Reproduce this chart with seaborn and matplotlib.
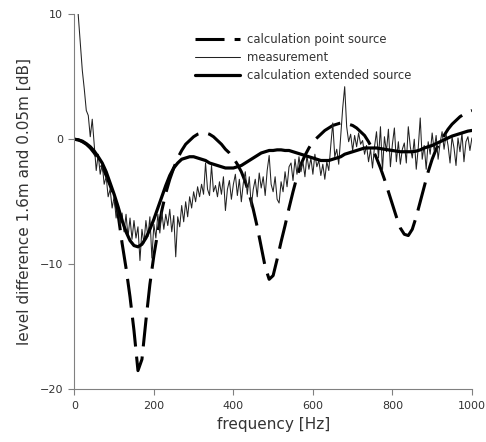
import matplotlib
matplotlib.use("Agg")
import matplotlib.pyplot as plt
import seaborn as sns
import numpy as np

# calculation grids (Hz)
freq_calc = list(range(0, 1001, 10))
freq_meas = list(range(5, 1001, 5))

# calculation point source [dB], every 10 Hz
point_source = [
    0.0, -0.05, -0.2, -0.4, -0.7, -1.1, -1.6, -2.2, -2.9, -3.7,
    -4.6, -6.0, -8.3, -10.3, -12.6, -15.3, -18.5, -17.6, -14.5, -11.6,
    -9.3, -7.4, -5.7, -4.3, -3.2, -2.3, -1.5, -0.9, -0.4, -0.1,
    0.2, 0.4, 0.5, 0.5, 0.4, 0.2, -0.1, -0.4, -0.8, -1.1,
    -1.5, -2.0, -2.6, -3.4, -4.4, -5.6, -7.0, -8.6, -10.2, -11.2,
    -10.9, -9.6, -8.2, -6.9, -5.5, -4.2, -3.0, -2.0, -1.3, -0.7,
    -0.2, 0.1, 0.4, 0.7, 0.9, 1.1, 1.2, 1.3, 1.3, 1.2,
    1.1, 0.9, 0.6, 0.3, -0.2, -0.8, -1.5, -2.3, -3.2, -4.2,
    -5.2, -6.2, -7.1, -7.6, -7.7, -7.2, -6.2, -5.0, -3.8, -2.6,
    -1.6, -0.8, -0.2, 0.3, 0.8, 1.2, 1.5, 1.8, 2.0, 2.2,
    2.3,
]

# calculation extended source [dB], every 10 Hz
extended_source = [
    0.0, -0.05, -0.15, -0.35, -0.6, -0.95, -1.4, -1.9, -2.6, -3.5,
    -4.4, -5.4, -6.5, -7.4, -8.1, -8.5, -8.6, -8.4, -7.9, -7.2,
    -6.4, -5.5, -4.6, -3.7, -2.9, -2.3, -1.9, -1.6, -1.5, -1.4,
    -1.4, -1.5, -1.6, -1.7, -1.9, -2.0, -2.1, -2.2, -2.3, -2.3,
    -2.3, -2.2, -2.1, -1.9, -1.7, -1.5, -1.3, -1.1, -1.0, -0.9,
    -0.9, -0.85, -0.85, -0.9, -0.9, -1.0, -1.1, -1.2, -1.3, -1.4,
    -1.5, -1.6, -1.7, -1.7, -1.7, -1.6, -1.5, -1.4, -1.2, -1.1,
    -1.0, -0.9, -0.8, -0.7, -0.7, -0.7, -0.7, -0.75, -0.8, -0.85,
    -0.9, -0.95, -1.0, -1.0, -1.0, -1.0, -0.95, -0.85, -0.7, -0.6,
    -0.5, -0.35, -0.2, -0.05, 0.1, 0.25, 0.35, 0.45, 0.55, 0.65,
    0.7,
]

# measurement [dB], every 5 Hz from 5 Hz
measurement = [
    12.0, 9.8, 7.5, 5.5, 4.0, 2.3, 1.9, 0.2, 1.6, -0.5,
    -2.5, -1.2, -2.8, -2.0, -3.6, -3.0, -4.6, -4.0, -5.5, -4.6,
    -6.3, -5.2, -6.8, -5.9, -7.4, -6.0, -7.8, -6.3, -8.0, -6.5,
    -7.9, -7.0, -9.7, -7.2, -8.3, -6.5, -7.8, -6.2, -9.5, -6.8,
    -7.9, -6.0, -7.5, -5.8, -7.2, -6.0, -6.9, -5.6, -7.4, -6.1,
    -9.4, -6.2, -7.0, -5.3, -6.6, -5.0, -6.2, -4.6, -5.5, -4.2,
    -5.0, -3.8, -4.6, -3.6, -4.4, -1.9, -4.0, -4.5, -2.1, -4.2,
    -3.7, -4.6, -3.4, -4.4, -3.0, -5.7, -4.0, -3.3, -4.8, -3.6,
    -2.8, -4.5, -3.2, -5.0, -3.5, -2.6, -4.4, -3.0, -5.4, -4.0,
    -3.2, -4.6, -2.7, -3.9, -3.0, -4.5, -2.5, -1.3, -3.6, -4.2,
    -3.0, -4.8, -5.1, -3.4, -4.2, -2.6, -3.8, -2.2, -1.9, -3.3,
    -1.6, -2.8, -1.4, -2.6, -1.8, -3.0, -1.3, -2.4, -1.5, -2.8,
    -1.2, -2.2, -1.7, -2.9, -2.0, -3.2, -1.8, -2.5, -0.5, 1.3,
    -1.4, -0.8, -2.0, 0.2, 2.5, 4.2, 1.0, -0.2, 0.4, -0.9,
    0.3, -0.6, 0.5, -0.4, -0.1, -1.2, -0.5, -1.8, -0.8, -2.3,
    -0.6, 0.6, -1.5, 1.0, -2.5, 0.2, -1.0, 0.8, -2.2, -0.4,
    0.9, -1.8, -0.2, -2.0, -0.8, -0.3, -1.9, 1.0, -0.6, -1.5,
    0.0, -2.4, -0.7, 1.7, -1.6, -0.5, -2.4, -0.2, -1.2, 0.5,
    -0.9, 0.3, -1.6, -0.3, 0.6, -0.8, 0.4, -0.5, -1.9, 0.2,
    -0.7, -2.1, 0.1, -1.0, 0.5, -1.8, -0.2, 0.2, -0.9, 0.1,
]

x_ticks = [0, 200, 400, 600, 800, 1000]
y_ticks = [-20, -10, 0, 10]

sns.set_style("ticks")
plt.rcParams['font.family'] = ['DejaVu Sans']

fig = plt.figure(figsize=(4.86, 4.42), dpi=100)
ax = fig.add_axes([0.153, 0.119, 0.818, 0.849])

spine_col = "#808080"
text_col = "#333333"

sns.lineplot(x=freq_calc, y=point_source, ax=ax, color="black", lw=2.2,
             linestyle=(0, (9.5, 3.3)), label="calculation point source")
sns.lineplot(x=freq_meas, y=measurement, ax=ax, color="#222222", lw=0.75,
             label="measurement")
sns.lineplot(x=freq_calc, y=extended_source, ax=ax, color="black", lw=2.3,
             label="calculation extended source")

ax.set_xlim(0, 1000)
ax.set_ylim(-20, 10)
ax.set_xticks(x_ticks)
ax.set_yticks(y_ticks)
ax.set_xlabel("frequency [Hz]", fontsize=11, color=text_col, labelpad=5)
ax.set_ylabel("level difference 1.6m and 0.05m [dB]", fontsize=11, color=text_col, labelpad=6)
ax.tick_params(labelsize=8, colors=spine_col, labelcolor=text_col, length=4.5, width=0.8)

sns.despine(ax=ax)
for s in ["left", "bottom"]:
    ax.spines[s].set_color(spine_col)
    ax.spines[s].set_linewidth(0.8)

leg = ax.legend(loc="upper left", bbox_to_anchor=(0.401, 0.925), bbox_transform=fig.transFigure,
                frameon=False, fontsize=8.4, handlelength=3.9, handletextpad=0.55,
                labelspacing=0.42, borderpad=0, borderaxespad=0)
for t in leg.get_texts():
    t.set_color(text_col)

fig.savefig("out.png", dpi=100)
